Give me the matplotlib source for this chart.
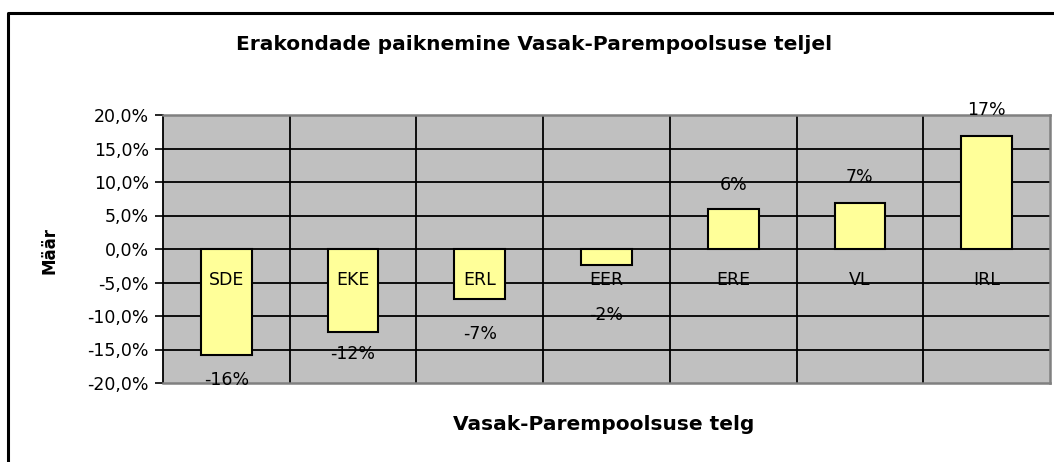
"""Erakondade paiknemine vasak-parempoolsuse teljel (Excel-style bar chart)."""

import matplotlib

matplotlib.use("Agg")
import matplotlib.pyplot as plt
from matplotlib.lines import Line2D
from matplotlib.ticker import FuncFormatter, MultipleLocator

parties = ["SDE", "EKE", "ERL", "EER", "ERE", "VL", "IRL"]
values = [-15.8, -12.4, -7.4, -2.4, 5.9, 6.9, 16.9]
# vertical gap (pixels) between bar end and its value label, as in the original
label_gap = [25, 22, 35, 50, 24, 26, 26]

plt.rcParams["font.family"] = ["DejaVu Sans"]

fig = plt.figure(figsize=(10.54, 4.62), dpi=100)
ax = fig.add_axes([163 / 1054, 79 / 462, 887 / 1054, 268 / 462])

ax.set_facecolor("#c0c0c0")
ax.bar(range(len(parties)), values, width=0.4, color="#ffff99",
       edgecolor="black", linewidth=1.5, zorder=3)

ax.set_xlim(-0.5, len(parties) - 0.5)
ax.set_ylim(-20, 20)
ax.yaxis.set_major_locator(MultipleLocator(5))
ax.yaxis.set_major_formatter(
    FuncFormatter(lambda v, _: f"{v:.1f}%".replace(".", ",")))
ax.tick_params(axis="y", direction="out", length=6, width=1.2,
               labelsize=12.5, pad=4)
ax.set_xticks([])

for y in range(-15, 20, 5):
    ax.axhline(y, color="black", linewidth=1.3, zorder=1)
for i in range(1, len(parties)):
    ax.axvline(i - 0.5, color="black", linewidth=1.3, zorder=1)

for side in ["top", "right", "bottom"]:
    ax.spines[side].set_color("#808080")
    ax.spines[side].set_linewidth(1.8)
ax.spines["left"].set_color("black")
ax.spines["left"].set_linewidth(1.3)

for i, (name, v) in enumerate(zip(parties, values)):
    ax.text(i, -4.7, name, ha="center", va="center", fontsize=12.5, zorder=5)
    off = label_gap[i] if v > 0 else -label_gap[i]
    ax.annotate(f"{v:.0f}%", xy=(i, v), xytext=(0, off * 0.72),
                textcoords="offset points", ha="center", va="center",
                fontsize=12.5, zorder=5, annotation_clip=False)

fig.text(534 / 1054, 1 - 45 / 462,
         "Erakondade paiknemine Vasak-Parempoolsuse teljel",
         ha="center", va="center", fontsize=14.5, fontweight="bold")
fig.text(604 / 1054, 1 - 425 / 462, "Vasak-Parempoolsuse telg",
         ha="center", va="center", fontsize=14.5, fontweight="bold")
fig.text(50 / 1054, 1 - 250 / 462, "Määr", rotation=90,
         ha="center", va="center", fontsize=12, fontweight="bold")

# chart area frame (top and left edges visible)
fig.add_artist(Line2D([8 / 1054, 8 / 1054, 1053 / 1054],
                      [0, 1 - 13 / 462, 1 - 13 / 462],
                      transform=fig.transFigure, color="black", linewidth=2.2))

fig.savefig("out.png", dpi=100)
